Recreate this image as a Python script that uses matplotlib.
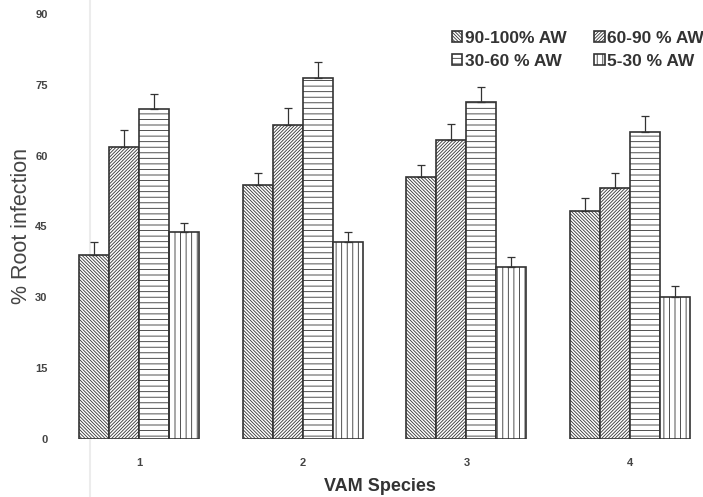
import numpy as np
import matplotlib.pyplot as plt
from matplotlib.lines import Line2D

# data
species = ['1', '2', '3', '4']
labels = ['90-100% AW', '60-90 % AW', '30-60 % AW', '5-30 % AW']

aw_90_100 = [39.0, 53.7, 55.4, 48.3]
aw_60_90 = [61.9, 66.5, 63.3, 53.2]
aw_30_60 = [69.8, 76.5, 71.3, 65.1]
aw_5_30 = [43.9, 41.8, 36.5, 30.1]

err_90_100 = [2.8, 2.7, 2.6, 2.7]
err_60_90 = [3.5, 3.6, 3.4, 3.2]
err_30_60 = [3.3, 3.3, 3.3, 3.2]
err_5_30 = [1.9, 2.1, 2.1, 2.3]

yticks = [0, 15, 30, 45, 60, 75, 90]

plt.rcParams['font.family'] = ['Liberation Sans', 'DejaVu Sans']
plt.rcParams['hatch.linewidth'] = 0.6
plt.rcParams['hatch.color'] = '#555555'

fig = plt.figure(figsize=(7.03, 4.97), dpi=100)
ax = fig.add_axes([0.0814, 0.1167, 0.9172, 0.8553])
ax.patch.set_alpha(0)

# faint scan line on the left side (behind the bars)
fig.add_artist(Line2D([0.128, 0.128], [0.0, 1.0], color='#ececec', lw=1.5, zorder=-1))

series = [aw_90_100, aw_60_90, aw_30_60, aw_5_30]
errs = [err_90_100, err_60_90, err_30_60, err_5_30]
hatches = ['\\' * 10, '/' * 10, '---', '|||']

x = np.arange(1, len(species) + 1)
w = 0.183
handles = []
for i, (vals, e, h, lab) in enumerate(zip(series, errs, hatches, labels)):
    pos = x + (i - 1.5) * w
    b = ax.bar(pos, vals, w, color='white', edgecolor='#333333', linewidth=1.2,
               hatch=h, label=lab, zorder=2)
    ax.errorbar(pos, vals, yerr=[np.zeros(len(e)), e], fmt='none',
                ecolor='#333333', elinewidth=0.9, capsize=3, capthick=0.9, zorder=3)
    handles.append(b)

ax.set_xlim(0.5, 4.44)
ax.set_ylim(0, 90)
ax.set_yticks(yticks)
ax.set_xticks(x)
ax.set_xticklabels(species)
for s in ax.spines.values():
    s.set_visible(False)
ax.tick_params(axis='both', length=0, labelsize=8, labelcolor='#444444')
ax.tick_params(axis='y', pad=7)
ax.tick_params(axis='x', pad=14)
for t in ax.get_xticklabels() + ax.get_yticklabels():
    t.set_fontweight('bold')

ax.set_xlabel('VAM Species', fontsize=13, fontweight='bold', color='#333333', labelpad=7)
ax.set_ylabel('% Root infection', fontsize=15.5, color='#444444', labelpad=2)

order = [0, 2, 1, 3]
leg = ax.legend([handles[k] for k in order], [labels[k] for k in order], ncol=2,
                frameon=False, loc='upper right', bbox_to_anchor=(1.003, 0.96),
                borderpad=0, borderaxespad=0,
                handlelength=0.6, handleheight=0.6, handletextpad=0.15,
                columnspacing=1.6, labelspacing=0.45,
                prop={'weight': 'bold', 'size': 12.5})
for t in leg.get_texts():
    t.set_color('#333333')

fig.savefig('out.png', dpi=100)
